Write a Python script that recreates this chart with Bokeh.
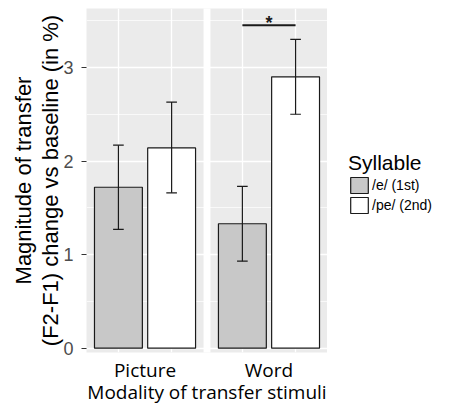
import numpy as np
from bokeh.plotting import figure
from bokeh.layouts import row
from bokeh.models import (ColumnDataSource, FixedTicker, SingleIntervalTicker,
                          Legend, LegendItem, Range1d)
from bokeh.embed import file_html
from bokeh.resources import INLINE
from bokeh.core.properties import value

# ---------------- data ----------------
modalities = ["Picture", "Word"]
syllables = ["/e/ (1st)", "/pe/ (2nd)"]
mean_e = [1.72, 1.33]
mean_pe = [2.14, 2.90]
low_e = [1.27, 0.93]
high_e = [2.17, 1.73]
low_pe = [1.66, 2.50]
high_pe = [2.63, 3.30]
sig_modality = "Word"
sig_y = 3.45
sig_text = "*"
y_tick_interval = 1
x_title = "Modality of transfer stimuli"
y_title = "Magnitude of transfer\n(F2-F1) change vs baseline (in %)"
legend_title = "Syllable"

# ---------------- layout helpers (facet positions) ----------------
PANEL = 2.2   # two bars + ggplot-like expansion of 0.6 on each side
GAP = 0.13    # space between the two facets
X0 = 0.4

def xpos(m_idx, s_idx):
    return m_idx * (PANEL + GAP) + s_idx + 1

GRAY = "#EBEBEB"
BAR_GRAY = "#C8C8C8"
INK = "#1a1a1a"

p = figure(width=327, height=407,
           x_range=Range1d(X0, X0 + 2 * PANEL + GAP),
           y_range=Range1d(-0.046, 3.63),
           output_backend="svg", toolbar_location=None,
           min_border_left=86, min_border_right=0,
           min_border_top=8, min_border_bottom=55)
p.background_fill_color = GRAY
p.border_fill_color = "white"
p.outline_line_color = None

# white gap between the two facet panels
p.quad(left=[X0 + PANEL], right=[X0 + PANEL + GAP], bottom=[-5], top=[10],
       fill_color="white", line_color=None)

src_e = ColumnDataSource(dict(
    x=[xpos(i, 0) for i in range(len(modalities))],
    top=mean_e, low=low_e, high=high_e,
    cl=[xpos(i, 0) - 0.1 for i in range(len(modalities))],
    cr=[xpos(i, 0) + 0.1 for i in range(len(modalities))]))
src_pe = ColumnDataSource(dict(
    x=[xpos(i, 1) for i in range(len(modalities))],
    top=mean_pe, low=low_pe, high=high_pe,
    cl=[xpos(i, 1) - 0.1 for i in range(len(modalities))],
    cr=[xpos(i, 1) + 0.1 for i in range(len(modalities))]))

p.vbar(x="x", top="top", bottom=0, width=0.9, source=src_e,
       fill_color=BAR_GRAY, line_color=INK, line_width=1.2)
p.vbar(x="x", top="top", bottom=0, width=0.9, source=src_pe,
       fill_color="white", line_color=INK, line_width=1.2)

for src in (src_e, src_pe):
    p.segment(x0="x", x1="x", y0="low", y1="high", source=src,
              line_color=INK, line_width=1.2)
    p.segment(x0="cl", x1="cr", y0="low", y1="low", source=src,
              line_color=INK, line_width=1.2)
    p.segment(x0="cl", x1="cr", y0="high", y1="high", source=src,
              line_color=INK, line_width=1.2)

# significance bracket
mi = modalities.index(sig_modality)
p.segment(x0=[xpos(mi, 0)], x1=[xpos(mi, 1)], y0=[sig_y], y1=[sig_y],
          line_color=INK, line_width=2)
p.text(x=[(xpos(mi, 0) + xpos(mi, 1)) / 2], y=[sig_y + 0.02], text=[sig_text],
       text_align="center", text_baseline="alphabetic",
       text_font=value("Liberation Sans"), text_font_size="18px",
       text_font_style="bold", text_color=INK)

# ---------------- axes & grids ----------------
centers = [xpos(i, 0) + 0.5 for i in range(len(modalities))]
p.xaxis.ticker = FixedTicker(ticks=centers)
p.xaxis.major_label_overrides = {c: m for c, m in zip(centers, modalities)}
p.xaxis.axis_line_color = None
p.xaxis.major_tick_line_color = None
p.xaxis.minor_tick_line_color = None
p.xaxis.major_tick_out = 0
p.xaxis.major_tick_in = 0
p.xaxis.major_label_standoff = 4
p.xaxis.major_label_text_font = "Open Sans"
p.xaxis.major_label_text_font_size = "19px"
p.xaxis.major_label_text_line_height = 1.0
p.xaxis.major_label_text_color = "black"
p.xaxis.axis_label = x_title
p.xaxis.axis_label_text_font = "Open Sans"
p.xaxis.axis_label_text_font_size = "19px"
p.xaxis.axis_label_text_line_height = 1.0
p.xaxis.axis_label_text_font_style = "normal"
p.xaxis.axis_label_text_color = "black"
p.xaxis.axis_label_standoff = -7

p.xgrid.ticker = FixedTicker(ticks=[xpos(i, j) for i in range(len(modalities)) for j in range(2)])
p.xgrid.grid_line_color = "white"
p.xgrid.grid_line_width = 1.3

p.yaxis.ticker = SingleIntervalTicker(interval=y_tick_interval, num_minor_ticks=2)
p.yaxis.axis_line_color = None
p.yaxis.major_tick_line_color = "#333333"
p.yaxis.major_tick_out = 5
p.yaxis.major_tick_in = 0
p.yaxis.minor_tick_line_color = None
p.yaxis.major_label_standoff = 8
p.yaxis.major_label_text_font = "Liberation Sans"
p.yaxis.major_label_text_font_size = "18px"
p.yaxis.major_label_text_color = "#4D4D4D"
p.yaxis.axis_label = y_title
p.yaxis.axis_label_text_font = "Liberation Sans"
p.yaxis.axis_label_text_font_size = "22px"
p.yaxis.axis_label_text_line_height = 1.1
p.yaxis.axis_label_text_font_style = "normal"
p.yaxis.axis_label_text_color = "black"
p.yaxis.axis_label_standoff = -3

p.ygrid.grid_line_color = "white"
p.ygrid.grid_line_width = 1.3
p.ygrid.minor_grid_line_color = "white"
p.ygrid.minor_grid_line_width = 0.7

# ---------------- legend (separate strip to the right) ----------------
pl = figure(width=122, height=391, x_range=Range1d(0, 1), y_range=Range1d(0, 1),
            output_backend="svg", toolbar_location=None,
            x_axis_location=None, y_axis_location=None,
            min_border=0)
pl.grid.visible = False
pl.outline_line_color = None
pl.background_fill_color = "white"
pl.border_fill_color = "white"
# key renderers: no drawable data, only used to style the legend keys
key_src = ColumnDataSource(dict(x=np.array([np.nan]), top=np.array([np.nan])))
k_e = pl.vbar(x="x", top="top", bottom=0, width=0.5, source=key_src,
              fill_color=BAR_GRAY, line_color=INK, line_width=1.2)
k_pe = pl.vbar(x="x", top="top", bottom=0, width=0.5, source=key_src,
               fill_color="white", line_color=INK, line_width=1.2)

legend = Legend(items=[LegendItem(label=syllables[0], renderers=[k_e]),
                       LegendItem(label=syllables[1], renderers=[k_pe])],
                location=(21, 121),
                title=legend_title, title_text_font="Liberation Sans",
                title_text_font_size="21px", title_text_font_style="normal",
                title_text_color="black", title_standoff=0,
                label_text_font="Liberation Sans", label_text_font_size="14px",
                label_text_color="black", label_standoff=2,
                glyph_width=22, glyph_height=20, label_height=17, spacing=0,
                padding=0, margin=0,
                background_fill_alpha=0, border_line_alpha=0)
pl.add_layout(legend, "center")

layout = row(p, pl)
open("out.html", "w").write(file_html(layout, INLINE))
